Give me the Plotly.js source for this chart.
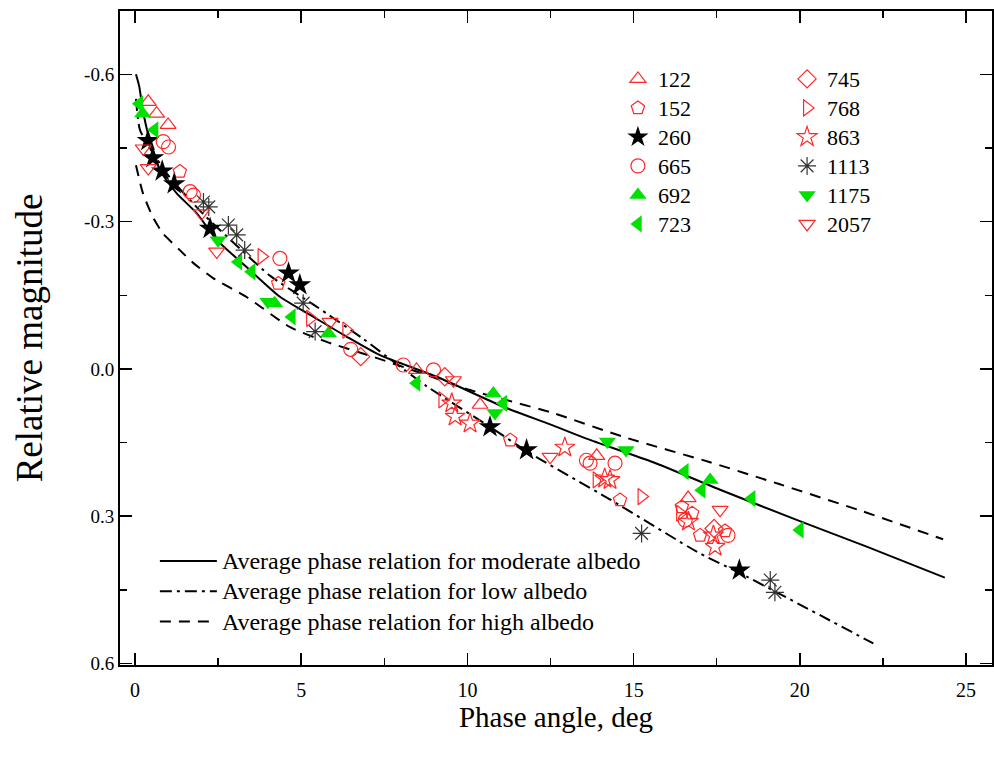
<!DOCTYPE html>
<html><head><meta charset="utf-8">
<script src="https://cdn.plot.ly/plotly-3.0.1.min.js"></script>
<style>html,body{margin:0;padding:0;background:#fff;}#chart{width:994px;height:758px;}</style>
</head><body><div id="chart"></div>
<script>
// ---- data ----
const x122 = [0.40, 0.65, 0.995, 8.47, 10.38, 13.89, 16.64];
const y122 = [-0.544, -0.52, -0.497, 0.002, 0.073, 0.177, 0.263];
const x152 = [1.35, 4.31, 11.29, 14.59, 16.45, 16.76, 17.0, 17.75];
const y152 = [-0.402, -0.174, 0.145, 0.267, 0.281, 0.294, 0.339, 0.33];
const x260 = [0.39, 0.54, 0.82, 1.18, 2.26, 4.62, 4.96, 10.68, 11.78, 18.18];
const y260 = [-0.465, -0.43, -0.403, -0.377, -0.286, -0.195, -0.171, 0.118, 0.165, 0.41];
const x665 = [0.85, 1.01, 1.66, 1.76, 4.36, 6.49, 8.07, 8.98, 13.58, 13.69, 14.44, 16.55, 17.84];
const y665 = [-0.463, -0.452, -0.361, -0.354, -0.225, -0.04, -0.008, 0.002, 0.186, 0.192, 0.192, 0.308, 0.339];
const x692 = [0.23, 4.2, 5.82, 10.78, 17.3];
const y692 = [-0.52, -0.134, -0.072, 0.05, 0.226];
const x723 = [0.13, 0.59, 3.11, 3.51, 4.72, 8.47, 11.08, 16.54, 17.05, 18.55, 20.0];
const y723 = [-0.54, -0.487, -0.218, -0.198, -0.106, 0.029, 0.07, 0.209, 0.247, 0.264, 0.328];
const x745 = [6.79, 9.32, 17.42];
const y745 = [-0.025, 0.016, 0.325];
const x768 = [3.81, 5.27, 6.36, 9.25, 13.89, 15.24, 16.4];
const y768 = [-0.229, -0.103, -0.079, 0.063, 0.226, 0.26, 0.294];
const x863 = [9.53, 9.63, 10.08, 12.93, 14.13, 14.29, 16.65, 17.4, 17.45];
const y863 = [0.07, 0.097, 0.111, 0.16, 0.223, 0.226, 0.311, 0.339, 0.362];
const x1113 = [2.06, 2.22, 2.81, 3.06, 3.3, 5.06, 5.42, 15.24, 19.11, 19.25];
const y1113 = [-0.34, -0.33, -0.293, -0.273, -0.242, -0.134, -0.076, 0.335, 0.43, 0.455];
const x1175 = [2.5, 4.0, 10.83, 14.21, 14.77];
const y1175 = [-0.262, -0.137, 0.09, 0.148, 0.165];
const x2057 = [0.25, 0.4, 2.0, 2.46, 5.87, 9.58, 12.49, 17.6];
const y2057 = [-0.449, -0.409, -0.317, -0.239, -0.096, 0.023, 0.179, 0.287];

const xModerate = [0.03, 0.13, 0.23, 0.39, 0.75, 1.25, 1.86, 2.46, 3.35, 4.36, 5.37, 6.36, 7.37, 9.08, 11.08, 12.49, 13.58, 15.59, 17.6, 20.0, 22.01, 24.36];
const yModerate = [-0.6, -0.575, -0.53, -0.48, -0.405, -0.358, -0.317, -0.263, -0.208, -0.147, -0.106, -0.066, -0.028, 0.016, 0.077, 0.113, 0.142, 0.19, 0.246, 0.31, 0.362, 0.425];
const xLow = [0.03, 0.15, 0.54, 1.05, 2.06, 3.08, 4.06, 5.46, 6.85, 8.77, 10.68, 11.89, 14.27, 17.0, 18.2, 22.21];
const yLow = [-0.55, -0.487, -0.44, -0.39, -0.315, -0.25, -0.19, -0.127, -0.062, 0.035, 0.118, 0.172, 0.265, 0.376, 0.416, 0.559];
const xHigh = [0.03, 0.24, 0.54, 0.84, 1.35, 1.75, 2.35, 3.37, 4.67, 5.77, 7.15, 8.67, 10.08, 12.49, 14.77, 17.3, 19.4, 21.89, 24.31];
const yHigh = [-0.415, -0.358, -0.309, -0.276, -0.242, -0.216, -0.185, -0.146, -0.085, -0.055, -0.025, 0.01, 0.043, 0.088, 0.14, 0.19, 0.235, 0.29, 0.347];

const names = ['122','152','260','665','692','723','745','768','863','1113','1175','2057'];
const lineNames = ['Average phase relation for moderate albedo','Average phase relation for low albedo','Average phase relation for high albedo'];

// ---- styling ----
const RED = 'rgb(255,40,40)', GREEN = 'rgb(0,225,0)', FONT = 'Liberation Serif, Times New Roman, serif';
function big(t, px) { return '<span style="font-size:' + px + 'px">' + t + '</span>'; }
function pts(name, x, y, symbol, color, size, legend, filled) {
  return {type:'scatter', mode:'markers', name:big(name, 22), x:x, y:y, legend:legend,
    marker:{symbol:symbol, size:size, color:color, line:{color:color, width: filled ? 0 : 1.2}}};
}
function crv(name, x, y, dash) {
  return {type:'scatter', mode:'lines', name:big(name, 24), x:x, y:y, legend:'legend3',
    line:{color:'#000', width:2, dash:dash, shape:'spline', smoothing:0.6}};
}
const traces = [
  crv(lineNames[0], xModerate, yModerate, 'solid'),
  crv(lineNames[1], xLow, yLow, '12px,5px,3px,5px'),
  crv(lineNames[2], xHigh, yHigh, '11px,8px'),
  pts(names[0], x122, y122, 'triangle-up-open', RED, 14, 'legend', false),
  pts(names[1], x152, y152, 'pentagon-open', RED, 14, 'legend', false),
  pts(names[2], x260, y260, 'star', '#000', 17, 'legend', true),
  pts(names[3], x665, y665, 'circle-open', RED, 14, 'legend', false),
  pts(names[4], x692, y692, 'triangle-up', GREEN, 15, 'legend', true),
  pts(names[5], x723, y723, 'triangle-left', GREEN, 15, 'legend', true),
  pts(names[6], x745, y745, 'diamond-open', RED, 14, 'legend2', false),
  pts(names[7], x768, y768, 'triangle-right-open', RED, 14, 'legend2', false),
  pts(names[8], x863, y863, 'star-open', RED, 15, 'legend2', false),
  pts(names[9], x1113, y1113, 'asterisk-open', '#333', 15, 'legend2', false),
  pts(names[10], x1175, y1175, 'triangle-down', GREEN, 15, 'legend2', true),
  pts(names[11], x2057, y2057, 'triangle-down-open', RED, 14, 'legend2', false)
];

const axisCommon = {showline:true, linecolor:'#000', linewidth:2, mirror:'ticks', ticks:'inside',
  ticklen:12, tickwidth:1.5, tickcolor:'#000', showgrid:false, zeroline:false};
const legendCommon = {font:{family:FONT, size:20, color:'#000'}, bgcolor:'rgba(0,0,0,0)',
  borderwidth:0, orientation:'v', xanchor:'left', yanchor:'top', itemclick:false, tracegroupgap:0};

const layout = {
  width:994, height:758, paper_bgcolor:'#fff', plot_bgcolor:'#fff',
  margin:{l:120, r:2, t:11, b:93},
  font:{family:FONT, color:'#000'},
  xaxis:Object.assign({}, axisCommon, {range:[-0.45, 25.78], tickmode:'array', tickvals:[0,5,10,15,20,25],
    tickfont:{family:FONT, size:20, color:'#000'},
    minor:{tickvals:[2.5,7.5,12.5,17.5,22.5], ticks:'inside', ticklen:7, tickwidth:1.5, tickcolor:'#000'},
    ticklabelstandoff:6,
    title:{text:'Phase angle, deg', font:{family:FONT, size:29, color:'#000'}, standoff:0}}),
  yaxis:Object.assign({}, axisCommon, {range:[0.603, -0.729], tickmode:'array', tickvals:[-0.6,-0.3,0,0.3,0.6],
    ticktext:['-0.6','-0.3','0.0','0.3','0.6'],
    tickfont:{family:FONT, size:19, color:'#000'},
    minor:{tickvals:[-0.45,-0.15,0.15,0.45], ticks:'inside', ticklen:7, tickwidth:1.5, tickcolor:'#000'},
    ticklabelstandoff:0,
    title:{text:'Relative magnitude', font:{family:FONT, size:37, color:'#000'}, standoff:30}}),
  legend:Object.assign({}, legendCommon, {x:0.571, y:0.926}),
  legend2:Object.assign({}, legendCommon, {x:0.765, y:0.926}),
  legend3:Object.assign({}, legendCommon, {x:0.04, y:0.19, itemwidth:57, font:{family:FONT, size:21, color:'#000'}}),
  showlegend:true, hovermode:false
};
Plotly.newPlot('chart', traces, layout, {staticPlot:true, displayModeBar:false});
</script>
</body></html>
